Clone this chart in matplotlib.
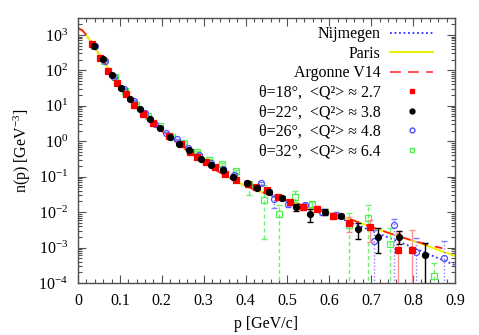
import numpy as np
import matplotlib
matplotlib.use("Agg")
import matplotlib.pyplot as plt
from matplotlib.lines import Line2D
from matplotlib.ticker import MultipleLocator, LogLocator, LogFormatterMathtext, NullFormatter

plt.rcParams['font.family'] = ['Liberation Serif', 'DejaVu Serif']
plt.rcParams['mathtext.fontset'] = 'custom'
plt.rcParams['mathtext.rm'] = 'Liberation Serif'
plt.rcParams['mathtext.it'] = 'Liberation Serif:italic'
plt.rcParams['font.size'] = 11.5

# model curves
p_curve = [0, 0.01, 0.02, 0.04, 0.06, 0.08, 0.10, 0.12, 0.14, 0.16, 0.18, 0.20, 0.22,
           0.25, 0.30, 0.35, 0.40, 0.45, 0.50, 0.55, 0.60, 0.65, 0.70, 0.75, 0.80, 0.85, 0.90]
n_paris = [1550, 1350, 1000, 447, 190, 83, 37, 17.8, 8.9, 4.9, 2.95, 1.95, 1.32,
           0.68, 0.245, 0.11, 0.054, 0.033, 0.0214, 0.0138, 0.0095, 0.0063, 0.0038,
           0.0024, 0.00155, 0.00095, 0.00058]
n_argonne = n_paris[:-1]
p_argonne = p_curve[:-2] + [0.87]
n_nijmegen = n_paris[:19] + [0.0129, 0.0087, 0.0052, 0.0030, 0.00174, 0.0010, 0.00056, 0.00032]

# theta = 18 deg
p_18 = [0.033, 0.053, 0.072, 0.093, 0.114, 0.134, 0.156, 0.180, 0.218, 0.247, 0.267, 0.285,
        0.305, 0.327, 0.351, 0.376, 0.405, 0.425, 0.452, 0.478, 0.506, 0.538, 0.571, 0.608,
        0.648, 0.697, 0.763, 0.798]
n_18 = [537, 229, 98, 44.7, 20.9, 10.7, 5.9, 3.24, 1.45, 0.81, 0.50, 0.37, 0.26, 0.19, 0.12,
        0.081, 0.063, 0.050, 0.041, 0.0275, 0.0195, 0.0135, 0.0126, 0.0078, 0.0050, 0.0037,
        0.00083, 0.00083]
lo_18 = [20, 9, 4, 1.8, 0.8, 0.4, 0.25, 0.13, 0.06, 0.035, 0.02, 0.015, 0.012, 0.009, 0.006,
         0.005, 0.004, 0.004, 0.004, 0.003, 0.003, 0.002, 0.002, 0.0015, 0.0022, 0.0023,
         0.00083, 0.00083]
hi_18 = [20, 9, 4, 1.8, 0.8, 0.4, 0.25, 0.13, 0.06, 0.035, 0.02, 0.015, 0.012, 0.009, 0.006,
         0.005, 0.004, 0.004, 0.004, 0.003, 0.003, 0.002, 0.002, 0.0015, 0.0022, 0.0023,
         0.0018, 0.0022]

# theta = 22 deg
p_22 = [0.038, 0.059, 0.080, 0.103, 0.125, 0.148, 0.172, 0.196, 0.220, 0.242, 0.266, 0.293,
        0.318, 0.345, 0.371, 0.403, 0.427, 0.457, 0.488, 0.520, 0.554, 0.590, 0.627, 0.669,
        0.715, 0.767, 0.828]
n_22 = [490, 204, 76, 32.4, 15.8, 8.3, 4.2, 2.3, 1.29, 0.85, 0.55, 0.31, 0.21, 0.155, 0.100,
        0.066, 0.049, 0.037, 0.025, 0.0141, 0.0087, 0.0102, 0.0078, 0.0033, 0.0020, 0.00195,
        0.00063]
lo_22 = [15, 6, 2.5, 1.0, 0.5, 0.25, 0.13, 0.07, 0.04, 0.03, 0.02, 0.012, 0.009, 0.007, 0.005,
         0.004, 0.004, 0.004, 0.003, 0.003, 0.0035, 0.002, 0.001, 0.0016, 0.0013, 0.0007,
         0.00063]
hi_22 = [15, 6, 2.5, 1.0, 0.5, 0.25, 0.13, 0.07, 0.04, 0.03, 0.02, 0.012, 0.009, 0.007, 0.005,
         0.004, 0.004, 0.004, 0.003, 0.003, 0.0035, 0.002, 0.001, 0.0016, 0.0015, 0.001,
         0.0007]

# theta = 26 deg
p_26 = [0.040, 0.064, 0.087, 0.110, 0.134, 0.160, 0.185, 0.209, 0.236, 0.262, 0.290, 0.318,
        0.345, 0.372, 0.403, 0.438, 0.468, 0.502, 0.542, 0.582, 0.617, 0.707, 0.755, 0.808,
        0.874]
n_26 = [479, 186, 63, 30.2, 14.1, 6.3, 3.0, 1.74, 1.12, 0.66, 0.41, 0.24, 0.166, 0.112, 0.068,
        0.065, 0.024, 0.0174, 0.0155, 0.0102, 0.0083, 0.0015, 0.0044, 0.00074, 0.00051]
lo_26 = [15, 6, 2, 1.0, 0.5, 0.25, 0.12, 0.07, 0.05, 0.03, 0.02, 0.012, 0.009, 0.007, 0.006,
         0.008, 0.011, 0.003, 0.003, 0.002, 0.0015, 0.0015, 0.0044, 0.00074, 0.00051]
hi_26 = [15, 6, 2, 1.0, 0.5, 0.25, 0.12, 0.07, 0.05, 0.03, 0.02, 0.012, 0.009, 0.007, 0.006,
         0.008, 0.006, 0.003, 0.003, 0.002, 0.0015, 0.0017, 0.0019, 0.0011, 0.0010]

# theta = 32 deg
p_32 = [0.038, 0.062, 0.088, 0.113, 0.138, 0.166, 0.196, 0.224, 0.254, 0.283, 0.313, 0.343,
        0.376, 0.408, 0.445, 0.481, 0.518, 0.558, 0.647, 0.693, 0.745, 0.850]
n_32 = [490, 186, 63, 26.3, 10.5, 5.2, 2.63, 1.32, 0.89, 0.50, 0.29, 0.224, 0.141, 0.063,
        0.0214, 0.0087, 0.0275, 0.0166, 0.0044, 0.0069, 0.00126, 0.000155]
lo_32 = [15, 6, 2, 1.0, 0.5, 0.25, 0.12, 0.07, 0.05, 0.03, 0.02, 0.02, 0.015, 0.033, 0.0197,
         0.0087, 0.008, 0.003, 0.0044, 0.0069, 0.00126, 0.000155]
hi_32 = [15, 6, 2, 1.0, 0.5, 0.25, 0.12, 0.07, 0.05, 0.03, 0.02, 0.02, 0.015, 0.005, 0.035,
         0.007, 0.013, 0.003, 0.0048, 0.0086, 0.0023, 0.00022]

labels = ['Nijmegen', 'Paris', 'Argonne V14',
          u'\u03b8=18\u00b0,  <Q\u00b2> \u2248 2.7',
          u'\u03b8=22\u00b0,  <Q\u00b2> \u2248 3.8',
          u'\u03b8=26\u00b0,  <Q\u00b2> \u2248 4.8',
          u'\u03b8=32\u00b0,  <Q\u00b2> \u2248 6.4']

fig = plt.figure(figsize=(4.79, 3.35), dpi=100)
ax = fig.add_axes([78/479, 1-283/335, 377/479, 265/335])
ax.set_yscale('log')

ax.plot(p_curve, n_nijmegen, color='#3030ff', ls=(0, (1, 1.5)), lw=1.3, zorder=2)
ax.plot(p_curve, n_paris, color='#f0f000', ls='-', lw=1.4, zorder=2)
ax.plot(p_argonne, n_argonne, color='#ff2020', ls=(0, (6, 4)), lw=1.3, zorder=2)

def draw(p, n, lo, hi, ecol, els, mk, mfc, mec, z):
    eb = ax.errorbar(p, n, yerr=[lo, hi], fmt='none', ecolor=ecol, elinewidth=1.0,
                     capsize=2.5, capthick=1.0, zorder=z)
    for c in eb[2]:
        c.set_linestyle(els)
    ax.plot(p, n, ls='none', marker=mk, ms=4.3, mfc=mfc, mec=mec, mew=0.9, zorder=z + 0.5)

draw(p_32, n_32, lo_32, hi_32, '#70f070', (0, (3, 2)), 's', 'none', '#50f050', 3)
draw(p_26, n_26, lo_26, hi_26, '#8080ff', (0, (1, 1.5)), 'o', 'none', '#5050ff', 4)
draw(p_18, n_18, lo_18, hi_18, '#ff9090', '-', 's', '#ff0000', '#ff0000', 5)
draw(p_22, n_22, lo_22, hi_22, '#000000', '-', 'o', '#000000', '#000000', 6)

handles = [
    Line2D([], [], color='#3030ff', ls=(0, (1, 1.5)), lw=1.3),
    Line2D([], [], color='#f0f000', ls='-', lw=1.4),
    Line2D([], [], color='#ff4040', ls=(0, (6, 4)), lw=1.3),
    Line2D([], [], ls='none', marker='s', ms=3.5, mfc='#ff0000', mec='#ff0000'),
    Line2D([], [], ls='none', marker='o', ms=3.5, mfc='#000000', mec='#000000'),
    Line2D([], [], ls='none', marker='o', ms=3.5, mfc='none', mec='#5050ff'),
    Line2D([], [], ls='none', marker='s', ms=3.5, mfc='none', mec='#50f050'),
]
ax.legend(handles, labels, loc='upper right', bbox_to_anchor=(0.970, 1.0075), frameon=False,
          markerfirst=False, handlelength=2.7, handletextpad=0.6, labelspacing=0.22,
          borderaxespad=0.25, fontsize=11.5)

ax.set_xlim(0, 0.9)
ax.set_ylim(1e-4, 3000)
ax.xaxis.set_minor_locator(MultipleLocator(0.02))
ax.set_xticks(np.arange(0, 0.91, 0.1))
ax.set_xticklabels(['0', '0.1', '0.2', '0.3', '0.4', '0.5', '0.6', '0.7', '0.8', '0.9'])
ax.yaxis.set_major_locator(LogLocator(base=10, numticks=20))
ax.yaxis.set_minor_locator(LogLocator(base=10, subs=np.arange(2, 10), numticks=20))
ax.yaxis.set_major_formatter(LogFormatterMathtext())
ax.yaxis.set_minor_formatter(NullFormatter())
ax.tick_params(which='both', direction='in', top=True, right=True, color='#505050')
ax.tick_params(which='major', length=6, width=0.8, labelsize=11.5, pad=7)
ax.tick_params(which='minor', length=3, width=0.8)
for s in ax.spines.values():
    s.set_color('#505050')
    s.set_linewidth(1.0)

ax.set_xlabel('p [GeV/c]', fontsize=11.5, labelpad=5)
ax.set_ylabel('n(p) [GeV$^{-3}$]', fontsize=11.5, labelpad=4)

fig.savefig('out.png', dpi=100)
